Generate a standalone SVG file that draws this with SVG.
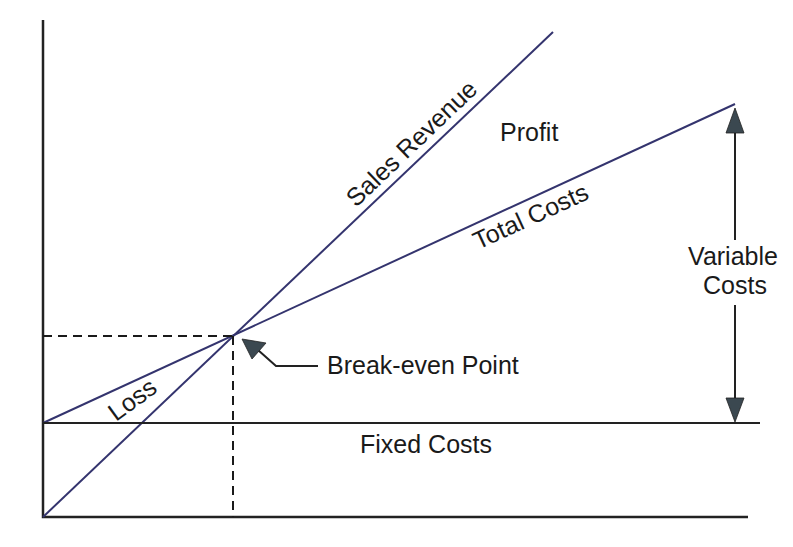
<svg xmlns="http://www.w3.org/2000/svg" width="793" height="547" viewBox="0 0 793 547">
<style>
text{font-family:"Liberation Sans",Arial,sans-serif;font-size:25px;fill:#1a1a1a}
.ax{stroke:#222;stroke-width:2.5;fill:none}
.ln{stroke:#34346e;stroke-width:2;fill:none}
.dash{stroke:#1a1a1a;stroke-width:2;stroke-dasharray:9,6;fill:none}
.blk{stroke:#222;stroke-width:2;fill:none}
.head{fill:#3b4850;stroke:#222;stroke-width:0.8}
</style>
<rect width="793" height="547" fill="#fff"/>
<g id="axes">
<path class="ax" d="M43,20 V517 H748"/>
</g>
<g id="connectors">
<line class="ln" x1="43" y1="517" x2="553" y2="32"/>
<line class="ln" x1="43" y1="423" x2="735" y2="104"/>
<line class="blk" x1="43" y1="423" x2="760" y2="423"/>
<path class="dash" d="M43,336 H233 M233,336 V517"/>
<path class="blk" d="M735,130 V240 M735,305 V400"/>
<polygon class="head" points="735,108 726,133 744,133"/>
<polygon class="head" points="735,422 726,398 744,398"/>
<path class="blk" d="M258,350 L276,366 H318"/>
<polygon class="head" points="242,339 266,343 252,359"/>
</g>
<g id="labels">
<text transform="translate(356,208) rotate(-43.6)">Sales Revenue</text>
<text x="500" y="141">Profit</text>
<text transform="translate(478,250) rotate(-24.7)">Total Costs</text>
<text x="733" y="265" text-anchor="middle">Variable</text>
<text x="735" y="294" text-anchor="middle">Costs</text>
<text x="327" y="374">Break-even Point</text>
<text transform="translate(116,422) rotate(-36)">Loss</text>
<text x="426" y="453" text-anchor="middle">Fixed Costs</text>
</g>
</svg>
